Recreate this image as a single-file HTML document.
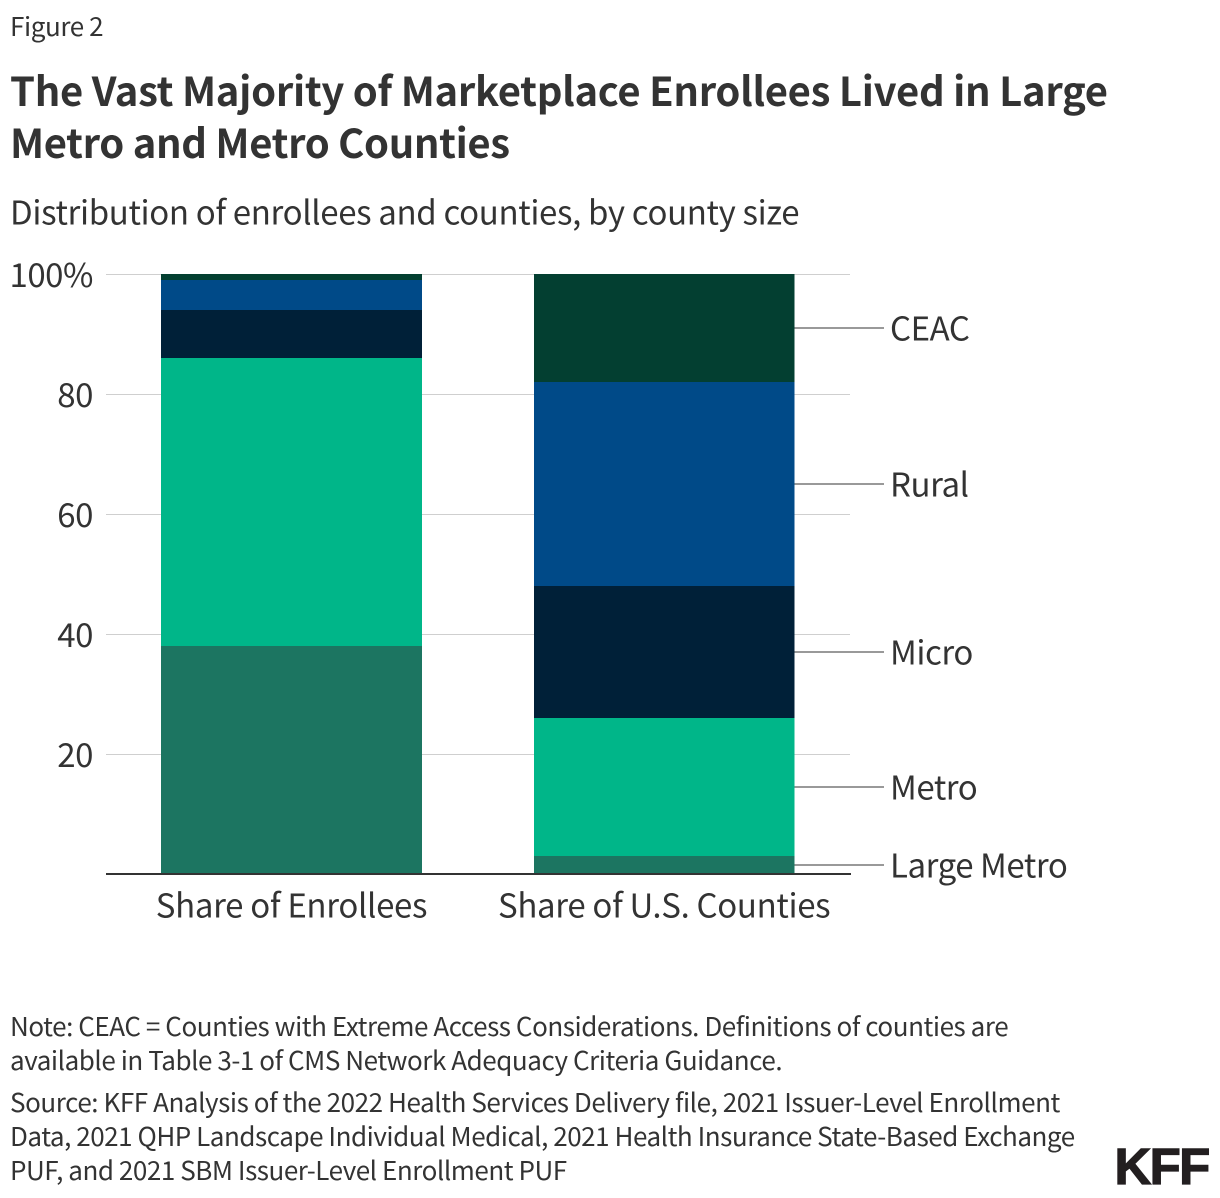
<!DOCTYPE html>
<html lang="en">
<head>
<meta charset="utf-8">
<title>The Vast Majority of Marketplace Enrollees Lived in Large Metro and Metro Counties</title>
<style>
html,body{margin:0;padding:0;background:#fff;}
body{width:1220px;height:1198px;overflow:hidden;position:relative;font-family:"Noto Sans CJK JP","Liberation Sans",sans-serif;color:#333;}
svg{position:absolute;left:0;top:0;display:block;}
text{font-family:"Noto Sans CJK JP","Liberation Sans",sans-serif;fill:#333;}
</style>
</head>
<body>
<svg id="chart" width="1220" height="1198" viewBox="0 0 1220 1198" xmlns="http://www.w3.org/2000/svg">
  <text x="10" y="36" font-size="26" letter-spacing="-0.4">Figure 2</text>
  <text x="10" y="106" font-size="40" font-weight="700" letter-spacing="-0.3">The Vast Majority of Marketplace Enrollees Lived in Large</text>
  <text x="10" y="158" font-size="40" font-weight="700" letter-spacing="-0.35">Metro and Metro Counties</text>
  <text x="10" y="224.5" font-size="33" letter-spacing="-0.35">Distribution of enrollees and counties, by county size</text>
  <g id="grid"></g>
  <g id="bars" shape-rendering="crispEdges"></g>
  <g id="leaders"></g>
  <g id="axes"></g>
  <text x="10" y="1036" font-size="26" letter-spacing="-0.44">Note: CEAC = Counties with Extreme Access Considerations. Definitions of counties are</text>
  <text x="10" y="1070" font-size="26" letter-spacing="-0.44">available in Table 3-1 of CMS Network Adequacy Criteria Guidance.</text>
  <text x="10" y="1112" font-size="26" letter-spacing="-0.43">Source: KFF Analysis of the 2022 Health Services Delivery file, 2021 Issuer-Level Enrollment</text>
  <text x="10" y="1146" font-size="26" letter-spacing="-0.46">Data, 2021 QHP Landscape Individual Medical, 2021 Health Insurance State-Based Exchange</text>
  <text x="10" y="1180" font-size="26" letter-spacing="-0.45">PUF, and 2021 SBM Issuer-Level Enrollment PUF</text>
  <text x="1114.5" y="1184" font-size="51" font-weight="700" letter-spacing="-1.7" stroke="#231f20" stroke-width="1.2" style="fill:#231f20;font-family:'Liberation Sans',sans-serif;">KFF</text>
</svg>
<script>
const categories = ["Share of Enrollees", "Share of U.S. Counties"];
const seriesNames = ["Large Metro", "Metro", "Micro", "Rural", "CEAC"];
const largeMetro = [38, 3];
const metro = [48, 23];
const micro = [8, 22];
const rural = [5, 34];
const ceac = [1, 18];
const yTicks = [0, 20, 40, 60, 80, 100];
const yTickLabels = ["", "20", "40", "60", "80", "100%"];

const seriesValues = [largeMetro, metro, micro, rural, ceac];
const seriesColors = ["#1c7561", "#00b689", "#002038", "#004a88", "#033f31"];
const NS = "http://www.w3.org/2000/svg";
const plot = { top: 274, bottom: 874, left: 106, right: 850, barLeft: 161.1, barStep: 372.7, barWidth: 260.7 };

function yScale(v) {
  return plot.bottom - (v / 100) * (plot.bottom - plot.top);
}
function xBar(i) {
  return plot.barLeft + i * plot.barStep;
}
function make(tag, attrs, parent) {
  const el = document.createElementNS(NS, tag);
  for (const k in attrs) el.setAttribute(k, attrs[k]);
  parent.appendChild(el);
  return el;
}

const gridG = document.getElementById("grid");
const barsG = document.getElementById("bars");
const leadersG = document.getElementById("leaders");
const axesG = document.getElementById("axes");

yTicks.forEach(function (t, i) {
  if (t !== 0) {
    const line = make("line", { x1: plot.left, x2: plot.right, y1: yScale(t) + 0.5, y2: yScale(t) + 0.5, stroke: "#cfcfcf", "stroke-width": 1 }, gridG);
    
    
    const label = make("text", { x: 93, y: yScale(t) + 13, "text-anchor": "end", "font-size": 33, "letter-spacing": "-0.45" }, axesG);
    label.textContent = yTickLabels[i];
    
    
  }
});

categories.forEach(function (cat, c) {
  let cum = 0;
  seriesValues.forEach(function (vals, s) {
    const v = vals[c];
    const r = make("rect", { x: xBar(c), y: yScale(cum + v), width: plot.barWidth, height: yScale(cum) - yScale(cum + v), fill: seriesColors[s] }, barsG);
    
    
    cum += v;
  });
  const lab = make("text", { x: xBar(c) + plot.barWidth / 2, y: 917.5, "text-anchor": "middle", "font-size": 33, "letter-spacing": "-0.33" }, axesG);
  lab.textContent = cat;
  
  
});

let cumLast = 0;
const lastCat = categories.length - 1;
seriesValues.forEach(function (vals, s) {
  const v = vals[lastCat];
  const mid = yScale(cumLast + v / 2);
  const yy = Math.round(mid);
  const l = make("line", { x1: xBar(lastCat) + plot.barWidth, x2: 884, y1: yy, y2: yy, stroke: "#999", "stroke-width": 2 }, leadersG);
  
  
  const t = make("text", { x: 890, y: mid + 12.5, "font-size": 33, "letter-spacing": "-0.45" }, leadersG);
  t.textContent = seriesNames[s];
  
  
  cumLast += v;
});

const axis = make("line", { x1: plot.left, x2: plot.right + 1, y1: plot.bottom, y2: plot.bottom, stroke: "#333", "stroke-width": 2 }, axesG);


</script>
</body>
</html>
